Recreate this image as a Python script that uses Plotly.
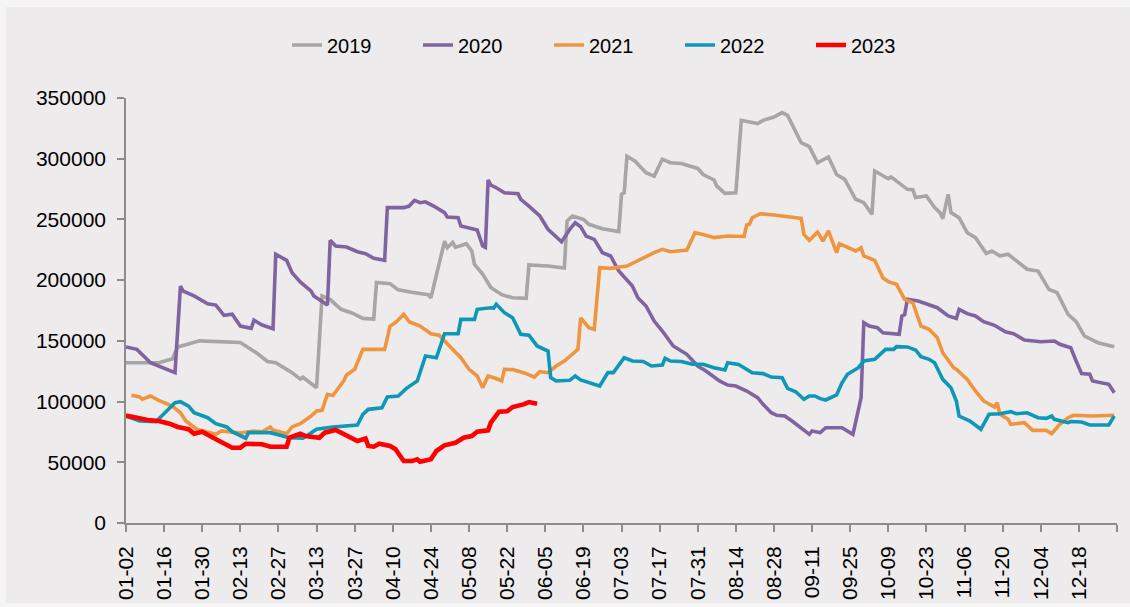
import pandas as pd
import plotly.graph_objects as go

# ---------------- data ----------------
tick_labels = ["01-02","01-16","01-30","02-13","02-27","03-13","03-27","04-10","04-24","05-08",
               "05-22","06-05","06-19","07-03","07-17","07-31","08-14","08-28","09-11","09-25",
               "10-09","10-23","11-06","11-20","12-04","12-18"]

dates_2019 = ["01-02","01-14","01-19","01-21","01-29","02-13","02-19","02-23","02-26","03-04","03-07","03-08","03-13","03-15","03-18","03-22","03-26","03-30","04-03","04-04","04-09","04-12","04-17","04-23","04-24","04-25","04-29","04-30","05-02","05-03","05-07","05-09","05-10","05-13","05-16","05-20","05-24","05-29","05-30","06-06","06-12","06-13","06-15","06-19","06-21","06-26","07-02","07-03","07-04","07-05","07-08","07-12","07-15","07-18","07-21","07-25","07-31","08-02","08-06","08-07","08-10","08-14","08-16","08-22","08-24","08-28","08-31","09-02","09-05","09-07","09-10","09-13","09-17","09-20","09-23","09-27","09-30","10-03","10-04","10-09","10-10","10-16","10-18","10-19","10-23","10-26","10-28","10-29","10-31","11-01","11-04","11-07","11-10","11-14","11-16","11-19","11-22","11-26","11-29","12-03","12-07","12-10","12-14","12-17","12-20","12-25","12-28","12-31"]
values_2019 = [132000,132000,135000,145000,150000,148700,140000,133000,132000,123800,118500,120000,111400,187000,184000,176000,173000,168500,168000,198000,197000,192000,190000,188000,185500,195000,232000,226700,231000,227000,230000,224000,213000,205000,194000,188000,185500,185000,212500,211600,210000,248700,252800,250000,246000,242400,240000,270700,272000,302000,298000,288500,285700,299500,296700,296000,292000,287000,282500,277500,271500,272000,331600,329000,331600,334300,338000,335700,321400,313200,310000,296700,301400,287000,283000,266600,263800,254200,289900,283500,285000,274800,274500,268000,269300,259700,255600,250600,270700,255600,251400,239000,235000,222000,224000,220000,221300,214400,209000,207500,192400,189700,171900,165800,154000,148500,147200,145200]

dates_2020 = ["01-02","01-06","01-11","01-15","01-20","01-22","01-23","01-27","02-01","02-04","02-07","02-10","02-13","02-17","02-18","02-21","02-25","02-26","03-02","03-04","03-07","03-11","03-12","03-17","03-18","03-20","03-24","03-28","03-31","04-03","04-07","04-08","04-14","04-16","04-18","04-20","04-22","04-25","04-29","04-30","05-04","05-05","05-08","05-11","05-13","05-14","05-15","05-16","05-18","05-21","05-26","05-27","05-30","06-03","06-06","06-11","06-14","06-16","06-18","06-20","06-23","06-26","06-29","07-02","07-07","07-09","07-12","07-15","07-18","07-21","07-22","07-27","07-31","08-03","08-08","08-11","08-14","08-18","08-22","08-24","08-27","08-29","09-01","09-04","09-07","09-10","09-11","09-14","09-16","09-22","09-26","09-29","09-30","10-02","10-05","10-07","10-13","10-14","10-15","10-16","10-20","10-23","10-27","10-31","11-03","11-04","11-07","11-10","11-13","11-17","11-21","11-24","11-28","12-04","12-09","12-11","12-15","12-17","12-19","12-22","12-23","12-29","12-31"]
values_2020 = [145000,143000,132000,128000,123800,195000,191000,187000,180600,179500,171000,171900,162200,160300,167000,163000,160000,221300,216300,206100,198500,191000,187000,179500,232800,228100,227300,223400,221800,218000,216300,259700,259700,261000,265700,263800,264500,261000,255600,252000,251400,244600,243200,241300,228100,227000,282500,278300,276100,272000,271200,266600,261000,252800,241900,231600,241900,247300,244000,236300,233600,222600,219900,207500,195200,185500,178700,166300,158100,148500,145800,138900,129300,125200,117000,113600,112800,108700,103200,97700,90800,88700,88100,83400,78500,73000,75800,74400,78500,78500,73000,103200,165000,162200,160800,156700,155400,170500,171500,184200,182800,180600,177300,170500,168500,176000,172400,170500,165800,162800,157500,155900,150700,149300,149900,147200,144400,133400,123000,122500,117000,114200,107300]

dates_2021 = ["01-04","01-07","01-08","01-11","01-14","01-19","01-22","01-24","01-28","02-01","02-04","02-06","02-10","02-13","02-18","02-21","02-24","02-25","03-02","03-04","03-07","03-11","03-13","03-15","03-17","03-19","03-23","03-24","03-27","03-30","04-07","04-09","04-11","04-14","04-16","04-20","04-24","04-27","04-30","05-05","05-08","05-11","05-13","05-15","05-18","05-20","05-21","05-24","05-28","06-01","06-03","06-06","06-09","06-12","06-17","06-18","06-21","06-23","06-25","06-29","07-05","07-11","07-15","07-18","07-21","07-27","07-30","08-03","08-06","08-11","08-17","08-18","08-19","08-20","08-23","08-28","09-03","09-07","09-08","09-10","09-13","09-15","09-17","09-20","09-21","09-24","09-27","09-29","09-30","10-04","10-07","10-09","10-12","10-15","10-18","10-21","10-24","10-27","10-29","11-02","11-03","11-07","11-10","11-13","11-17","11-18","11-19","11-22","11-23","11-28","12-01","12-06","12-08","12-11","12-14","12-16","12-23","12-31"]
values_2021 = [105200,103800,101900,104600,101000,96300,90800,84000,77200,75200,73000,75800,74400,74000,75800,75200,79100,76500,73600,79100,81800,88100,92200,92800,106000,105000,117000,121900,126600,143000,143000,162200,165000,171900,165800,162200,155900,154600,147700,136100,126600,121100,111400,121100,119000,117000,126600,126300,123800,120200,124600,123800,129300,133400,143000,169000,160800,159500,210200,209700,211600,218500,222600,225400,223400,224800,239100,237000,235000,236300,236000,245400,246000,251400,254700,253600,252000,250900,237700,232800,239600,232200,240500,222600,230000,226700,224000,226700,219900,216300,202000,198700,196600,184200,181400,162200,159500,152600,140200,127900,126600,118300,108700,100500,95500,99100,89500,85400,81300,82600,76300,76300,73600,81300,86700,88700,88100,88700]

dates_2022 = ["01-02","01-07","01-13","01-20","01-22","01-25","01-27","02-01","02-04","02-08","02-10","02-15","02-16","02-24","03-03","03-08","03-13","03-19","03-28","03-30","04-01","04-06","04-08","04-12","04-15","04-19","04-22","04-26","04-29","05-04","05-05","05-10","05-11","05-16","05-17","05-18","05-21","05-24","05-27","05-30","06-02","06-06","06-07","06-09","06-14","06-16","06-18","06-21","06-25","06-28","06-30","07-04","07-07","07-11","07-14","07-18","07-19","07-21","07-25","07-29","08-02","08-06","08-10","08-11","08-15","08-17","08-20","08-24","08-27","08-31","09-02","09-05","09-08","09-10","09-12","09-14","09-16","09-20","09-22","09-24","09-28","09-30","10-04","10-08","10-11","10-12","10-16","10-19","10-21","10-24","10-26","10-29","11-01","11-03","11-04","11-08","11-12","11-15","11-19","11-23","11-25","11-29","12-03","12-06","12-08","12-09","12-14","12-15","12-19","12-22","12-29","12-31"]
values_2022 = [88100,84000,83400,99100,99900,96300,90800,86700,81800,79100,75200,69800,74400,74400,70200,69800,77200,79100,80700,89500,93600,94900,103800,104600,110900,117000,137500,136100,155900,155900,167700,167700,176000,177300,176800,180100,173200,169000,155400,154600,145800,141600,119700,117000,117500,121100,117800,115500,112800,123800,123800,136100,133400,133000,129300,130000,135600,133400,133000,130700,130700,127900,126000,132000,130500,127900,123800,123000,120200,119700,110900,108100,101900,104600,104600,102400,101300,105400,115500,122500,127900,133400,134800,143000,143000,145200,145000,142500,137000,134800,132000,118300,111400,100500,88100,84000,77200,89500,90000,91700,90000,90800,86700,86200,88100,85400,82600,83600,83200,80700,80700,88100]

dates_2023 = ["01-02","01-06","01-10","01-14","01-18","01-21","01-25","01-27","01-30","02-03","02-07","02-10","02-13","02-15","02-21","02-24","03-02","03-03","03-07","03-09","03-14","03-16","03-20","03-24","03-28","03-31","04-01","04-03","04-05","04-09","04-11","04-14","04-17","04-19","04-20","04-24","04-26","04-29","05-03","05-06","05-09","05-11","05-15","05-16","05-18","05-19","05-22","05-24","05-28","05-30","06-02"]
values_2023 = [88500,86200,84800,84000,81800,79100,77200,73600,75200,70200,66100,62000,62000,65300,64800,62800,62800,70200,73600,71600,70200,74400,76600,72200,67500,69500,63400,62800,65300,63400,60700,51000,51000,52500,50500,52500,59300,64000,66100,70200,71600,75200,76300,82600,88100,91700,92000,95500,97700,99600,98300]

series_names = ["2019", "2020", "2021", "2022", "2023"]
series_dates = [dates_2019, dates_2020, dates_2021, dates_2022, dates_2023]
series_values = [values_2019, values_2020, values_2021, values_2022, values_2023]
series_colors = ["#A6A6A6", "#8064A2", "#F0953F", "#0E97B7", "#FF0000"]
series_widths = [3.6, 3.6, 3.6, 3.6, 4.6]

# ---------------- figure ----------------
def to_ts(mmdd):
    return pd.to_datetime(["2021-" + d for d in mmdd])

fig = go.Figure()
for name, d, v, c, w in zip(series_names, series_dates, series_values, series_colors, series_widths):
    fig.add_trace(go.Scatter(x=to_ts(d), y=v, name=name, mode="lines",
                             line=dict(color=c, width=w)))

FONT = "Liberation Sans, Arial, sans-serif"
tickvals = list(to_ts(tick_labels)) + [pd.Timestamp("2022-01-01")]
ticktext = tick_labels + [""]

W, H = 1130, 607
L, R, T, B = 126, 13, 98, 84
pw, ph = W - L - R, H - T - B

fig.update_layout(
    width=W, height=H,
    margin=dict(l=L, r=R, t=T, b=B),
    paper_bgcolor="#F5F5F5",
    plot_bgcolor="#EDEBEC",
    font=dict(family=FONT, color="#000000", size=20),
    showlegend=True,
    legend=dict(orientation="h", x=(287 - L) / pw, xanchor="left",
                y=(H - B - 45) / ph, yanchor="middle",
                font=dict(size=20, family=FONT, color="#000000"),
                bgcolor="rgba(0,0,0,0)", entrywidth=86, entrywidthmode="pixels",
                traceorder="normal"),
    shapes=[dict(type="rect", xref="paper", yref="paper", layer="below",
                 x0=(6 - L) / pw, x1=(W - L) / pw,
                 y0=(H - B - 603) / ph, y1=(H - B - 7) / ph,
                 fillcolor="#EDEBEC", line=dict(width=0))],
)

fig.update_xaxes(
    type="date", range=["2021-01-02", "2022-01-01"], automargin=False,
    tickmode="array", tickvals=tickvals, ticktext=ticktext,
    tickangle=-90, tickfont=dict(size=21, family=FONT, color="#000000"),
    showgrid=False, zeroline=False,
    showline=True, linecolor="#8C8C8C", linewidth=1.6,
    ticks="outside", ticklen=7, tickwidth=1.6, tickcolor="#8C8C8C",
    ticklabelstandoff=6,
)
fig.update_yaxes(
    range=[0, 350000], dtick=50000, tick0=0, tickformat="d", automargin=False,
    tickfont=dict(size=21, family=FONT, color="#000000"),
    showgrid=False, zeroline=False,
    showline=True, linecolor="#8C8C8C", linewidth=1.6,
    ticks="outside", ticklen=7, tickwidth=1.6, tickcolor="#8C8C8C",
    ticklabelstandoff=7,
)

fig.write_html(
    "out.html",
    config={"displayModeBar": False},
    post_script="document.body.style.margin='0';document.body.style.background='#F5F5F5';",
)
